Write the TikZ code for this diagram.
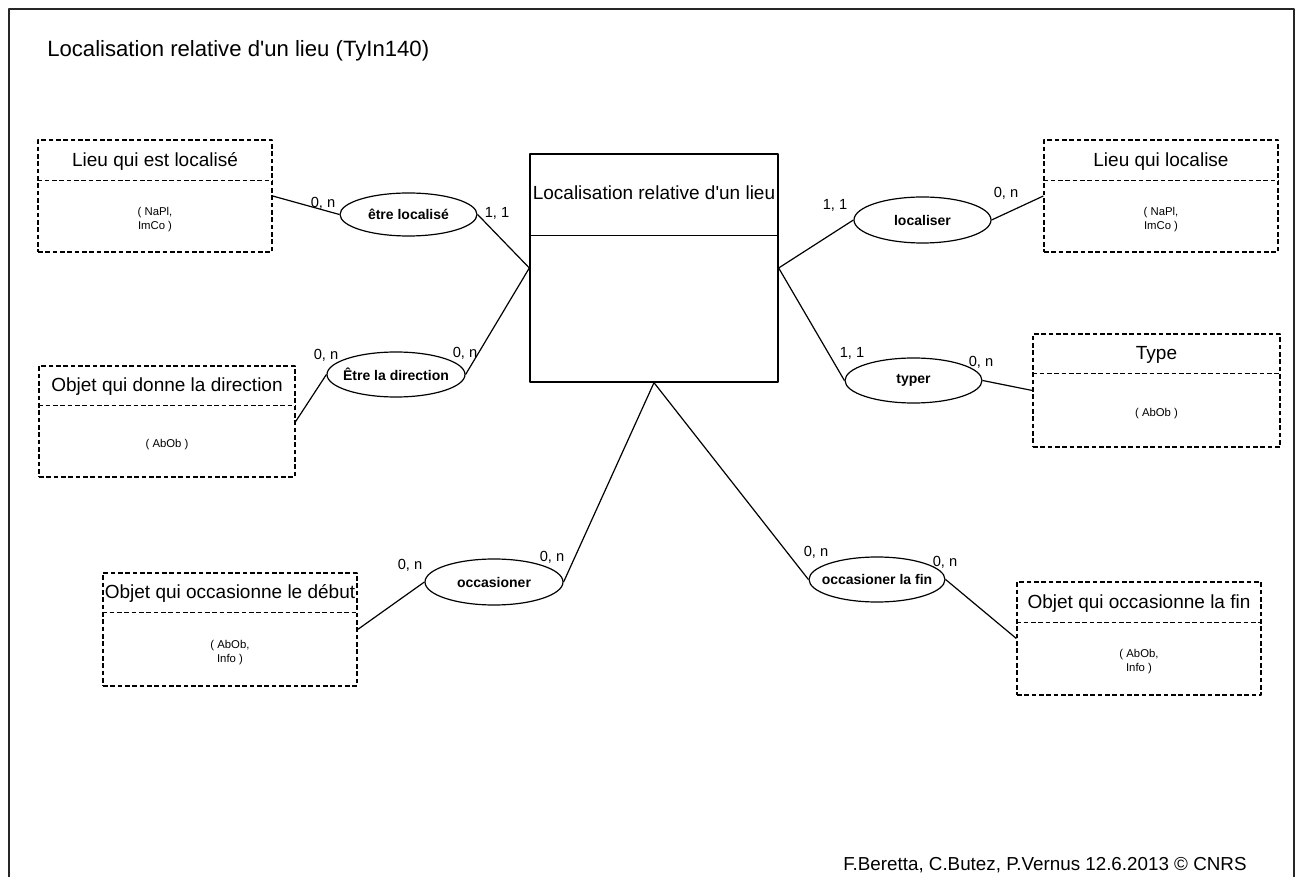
\documentclass[tikz,border=0pt]{standalone}
\usepackage{fontspec}
\setmainfont{Liberation Sans}
\usetikzlibrary{shapes.geometric}

\begin{document}
\begin{tikzpicture}[x=0.75pt, y=-0.75pt, line join=round,
	entite/.style={draw, dash pattern=on 3.5pt off 2pt, line width=1pt, inner sep=0pt},
	classe/.style={draw, line width=1pt, inner sep=0pt},
	assoc/.style={draw, ellipse, line width=0.9pt, inner xsep=-14pt, inner ysep=0pt,
		font=\fontsize{10.5}{12}\selectfont\bfseries},
	titre/.style={font=\fontsize{14.25}{17}\selectfont, inner sep=0pt, text height=0.72em, text depth=0em},
	attr/.style={font=\fontsize{8.5}{10.5}\selectfont, align=center, inner sep=0pt},
	card/.style={font=\fontsize{11}{13}\selectfont, inner sep=0pt},
	lien/.style={line width=0.9pt}]
	% Page size and 1px unit
	\def\px{0.75pt}
	\useasboundingbox (0,0) rectangle (1297,877);
	
	% Outer frame (open at the bottom)
	\draw[line width=1.5pt, black!85] (8.5,877) -- (8.5,9) -- (1294,9) -- (1294,877);
	
	% Heading and footer
	\node[anchor=base west, inner sep=0pt, font=\fontsize{16.6}{20}\selectfont] (entete) at (47,57)
		{Localisation relative d\textquotesingle un lieu (TyIn140)};
	\node[anchor=base west, inner sep=0pt, font=\fontsize{14.1}{17}\selectfont] (auteurs) at (843,870)
		{F.Beretta, C.Butez, P.Vernus 12.6.2013 © CNRS};
	
	% Central class
	\node[classe, minimum width=248*\px, minimum height=228*\px] (locrel) at (654,268) {};
	\draw[line width=1pt] ([yshift=-82*\px]locrel.north west) -- ([yshift=-82*\px]locrel.north east);
	\node[titre] (locreltitre) at (654,195) {Localisation relative d\textquotesingle un lieu};
	
	% Dashed entities: name / centre / size / title band / title / attributes
	\foreach \nom/\cx/\cy/\w/\h/\d/\titre/\attr in {
		lieuA/155/196/234/112/41/{Lieu qui est localisé}/{( NaPl,\\ImCo )},
		objDir/167/421.5/256/111/40/{Objet qui donne la direction}/{( AbOb )},
		lieuB/1161/196/234/112/41/{Lieu qui localise}/{( NaPl,\\ImCo )},
		typ/1156.5/390.5/247/113/40/{Type}/{( AbOb )},
		objDeb/230/629.5/254/113/40/{Objet qui occasionne le début}/{( AbOb,\\Info )},
		objFin/1139/638.5/244/113/41/{Objet qui occasionne la fin}/{( AbOb,\\Info )}}
	{
		\node[entite, minimum width=\w*\px, minimum height=\h*\px] (\nom) at (\cx,\cy) {};
		\draw[dash pattern=on 3.5pt off 2pt, line width=1pt]
			([yshift=-\d*\px]\nom.north west) -- ([yshift=-\d*\px]\nom.north east);
		\pgfmathsetmacro{\ty}{\cy-\h/2+\d/2+1}
		\pgfmathsetmacro{\ay}{\cy+\d/2+3}
		\node[titre] (\nom titre) at (\cx,\ty) {\titre};
		\node[attr] (\nom attr) at (\cx,\ay) {\attr};
	}
	
	% Associations
	\node[assoc, minimum width=137*\px, minimum height=43*\px] (etreLoc) at (408.5,214.5) {être localisé};
	\node[assoc, minimum width=138*\px, minimum height=45*\px] (etreDir) at (396,374.5) {Être la direction};
	\node[assoc, minimum width=137*\px, minimum height=46*\px] (localiser) at (922.5,220) {localiser};
	\node[assoc, minimum width=137*\px, minimum height=45*\px] (typer) at (913.5,380.5) {typer};
	\node[assoc, minimum width=138*\px, minimum height=46*\px] (occDeb) at (494,582) {occasioner};
	\node[assoc, minimum width=136*\px, minimum height=45*\px] (occFin) at (877,579.5) {occasioner la fin};
	
	% Links
	\draw[lien] (lieuA.east) -- (etreLoc.west);
	\draw[lien] (etreLoc.east) -- (locrel.west);
	\draw[lien] (objDir.east) -- (etreDir.west);
	\draw[lien] (etreDir.east) -- (locrel.west);
	\draw[lien] (locrel.east) -- (localiser.west);
	\draw[lien] (localiser.east) -- (lieuB.west);
	\draw[lien] (locrel.east) -- (typer.west);
	\draw[lien] (typer.east) -- (typ.west);
	\draw[lien] (objDeb.east) -- (occDeb.west);
	\draw[lien] (occDeb.east) -- (locrel.south);
	\draw[lien] (locrel.south) -- (occFin.west);
	\draw[lien] (occFin.east) -- (objFin.west);
	
	% Cardinalities
	\foreach \n/\x/\y/\t in {
		a/323/203/{0, n}, b/497/213/{1, 1},
		c/835/205/{1, 1}, d/1006/193/{0, n},
		e/326/355/{0, n}, f/465/353/{0, n},
		g/852/353/{1, 1}, h/981/362/{0, n},
		i/410/565/{0, n}, j/552/557/{0, n},
		k/816/552/{0, n}, l/945/562/{0, n}}
	\node[card] (card\n) at (\x,\y) {\t};
\end{tikzpicture}
\end{document}
